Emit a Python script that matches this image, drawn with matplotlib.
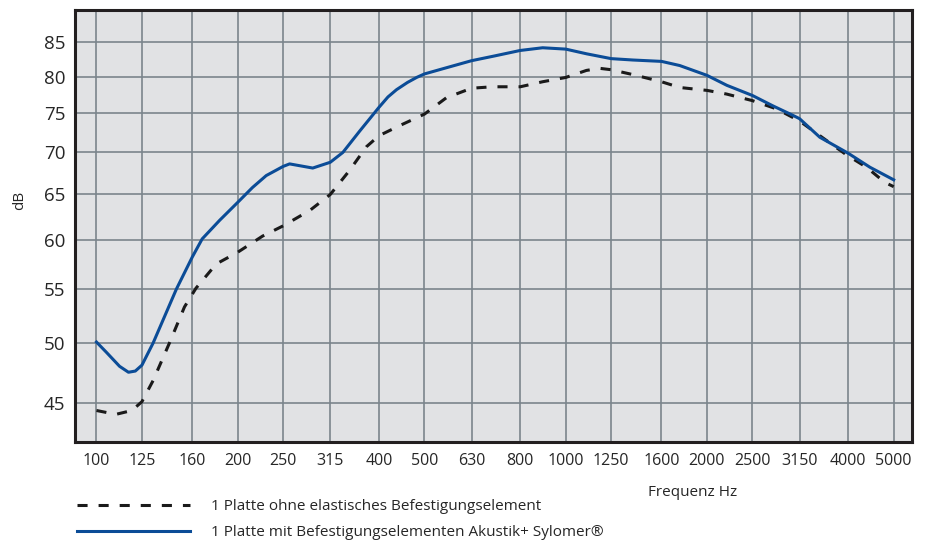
import matplotlib
matplotlib.use("Agg")
import matplotlib.pyplot as plt

plt.rcParams['font.family'] = ['Open Sans', 'DejaVu Sans']

# Terzband-Mittenfrequenzen (Achsbeschriftung)
bands = [100, 125, 160, 200, 250, 315, 400, 500, 630, 800,
         1000, 1250, 1600, 2000, 2500, 3150, 4000, 5000]
db_ticks = [45, 50, 55, 60, 65, 70, 75, 80, 85]

# 1 Platte ohne elastisches Befestigungselement
f_ohne = [100, 110, 119, 125, 132, 143, 154, 163, 180, 200, 226, 250, 285,
          315, 346, 376, 400, 443, 500, 557, 630, 699, 800, 893, 1000, 1107,
          1181, 1250, 1392, 1600, 1750, 2000, 2201, 2500, 2812, 3150, 3480,
          3967, 4375, 4787, 5000]
db_ohne = [44.4, 44.1, 44.4, 45.1, 46.8, 50.0, 53.3, 55.1, 57.5, 58.7, 60.4,
           61.5, 63.2, 65.0, 67.8, 70.7, 72.1, 73.4, 74.9, 77.1, 78.4, 78.6,
           78.6, 79.3, 79.9, 80.9, 81.2, 81.0, 80.3, 79.3, 78.5, 78.1, 77.6,
           76.7, 75.6, 74.0, 72.1, 69.7, 68.2, 66.4, 65.9]

# 1 Platte mit Befestigungselementen Akustik+ Sylomer
f_mit = [100, 105, 112, 117, 121, 125, 132, 148, 160, 168, 183, 200, 215,
         230, 250, 258, 289, 315, 335, 364, 400, 418, 436, 460, 481, 500, 558,
         630, 706, 800, 893, 1000, 1109, 1250, 1390, 1600, 1750, 2000, 2205,
         2500, 2763, 3034, 3150, 3480, 4000, 4449, 5000]
db_mit = [50.1, 49.2, 48.0, 47.5, 47.6, 48.1, 50.0, 55.0, 58.2, 60.1, 62.1,
          64.1, 65.8, 67.2, 68.3, 68.6, 68.1, 68.8, 70.0, 72.7, 75.8, 77.2,
          78.2, 79.2, 79.9, 80.4, 81.3, 82.3, 83.0, 83.8, 84.2, 84.0, 83.3,
          82.6, 82.4, 82.2, 81.6, 80.2, 78.8, 77.4, 76.0, 74.8, 74.3, 71.9,
          69.9, 68.2, 66.7]

fig = plt.figure(figsize=(9.28, 5.40), dpi=100)
ax = fig.add_axes([75 / 928, 1 - 442 / 540, 837 / 928, 432 / 540])
ax.set_facecolor('#e1e2e4')

ax.set_xscale('log')
ax.set_yscale('log')
ax.set_xlim(90, 5470)
ax.set_ylim(42, 90)

for f in bands:
    ax.axvline(f, color='#7b858c', lw=1.2, zorder=1)
for d in db_ticks:
    ax.axhline(d, color='#7b858c', lw=1.2, zorder=1)

l1, = ax.plot(f_ohne, db_ohne, color='#1a1a1a', lw=2.2, dashes=(3.3, 3.6),
              zorder=3, label='1 Platte ohne elastisches Befestigungselement')
l2, = ax.plot(f_mit, db_mit, color='#0b4c97', lw=2.2, zorder=4,
              label='1 Platte mit Befestigungselementen Akustik+ Sylomer®')

ax.set_xticks(bands)
ax.set_xticklabels([str(b) for b in bands])
ax.set_yticks(db_ticks)
ax.set_yticklabels([str(d) for d in db_ticks])
ax.minorticks_off()
ax.tick_params(axis='x', length=0, pad=8, labelsize=11.5, labelcolor='#262626')
ax.tick_params(axis='y', length=0, pad=7, labelsize=13.5, labelcolor='#262626')

for s in ax.spines.values():
    s.set_linewidth(2.2)
    s.set_color('#231f20')

fig.text(20 / 928, 1 - 200 / 540, 'dB', rotation=90, ha='center', va='center',
         fontsize=11, color='#262626')
fig.text(693 / 928, 1 - 492 / 540, 'Frequenz Hz', ha='center', va='center',
         fontsize=11, color='#262626')

fig.legend(handles=[l1, l2], loc='upper left',
           bbox_to_anchor=(77 / 928, 1 - 499 / 540), frameon=False,
           fontsize=11, handlelength=7.4, handletextpad=1.4,
           labelspacing=0.75, borderpad=0, borderaxespad=0,
           labelcolor='#262626')

fig.savefig('out.png', dpi=100)
